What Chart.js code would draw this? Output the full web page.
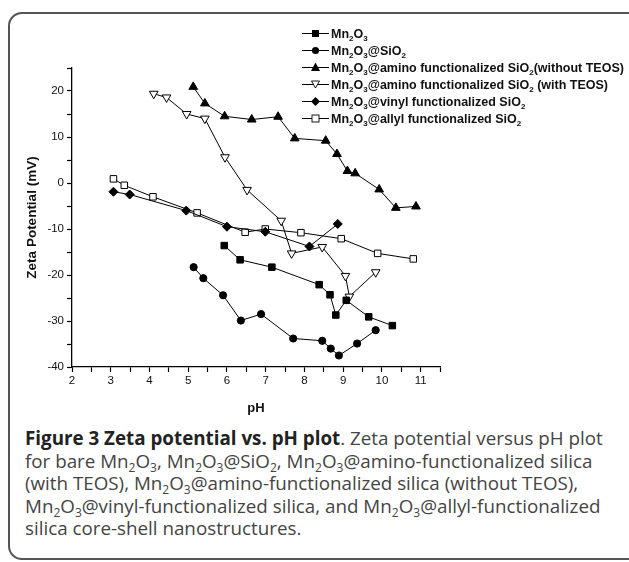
<!DOCTYPE html>
<html>
<head>
<meta charset="utf-8">
<script src="https://cdn.jsdelivr.net/npm/chart.js@4.4.1/dist/chart.umd.min.js"></script>
<style>
  html, body { margin: 0; padding: 0; background: #fff; }
  body { width: 629px; height: 562px; position: relative; overflow: hidden; }
  #frame {
    position: absolute; left: 8px; top: 12px; width: 640px; height: 548px;
    border: 2px solid #555; border-radius: 14px; box-sizing: border-box;
  }
  #wrap { position: absolute; left: 0; top: 0; width: 629px; height: 420px; }
  #legend {
    position: absolute; left: 302px; top: 25px;
    font: bold 12.5px "Liberation Sans", Arial, sans-serif; color: #111;
  }
  #legend .row { height: 17px; display: flex; align-items: center; white-space: nowrap; }
  #legend svg { margin-right: 2px; }
  #legend sub { font-size: 8px; vertical-align: -3px; line-height: 0; }
  #caption {
    position: absolute; left: 25px; top: 427px; width: 610px; white-space: nowrap;
    font: 18.8px "Open Sans", sans-serif; color: #444; line-height: 22.5px;
  }
  #caption b { color: #222; }
  #caption sub { font-size: 12px; vertical-align: -4px; line-height: 0; }
</style>
</head>
<body>
<div id="frame"></div>
<div id="wrap"><canvas id="grafico"></canvas></div>
<div id="legend"></div>
<div id="caption"><b>Figure 3 Zeta potential vs. pH plot</b>. Zeta potential versus pH plot<br>for bare Mn<sub>2</sub>O<sub>3</sub>, Mn<sub>2</sub>O<sub>3</sub>@SiO<sub>2</sub>, Mn<sub>2</sub>O<sub>3</sub>@amino-functionalized silica<br>(with TEOS), Mn<sub>2</sub>O<sub>3</sub>@amino-functionalized silica (without TEOS),<br>Mn<sub>2</sub>O<sub>3</sub>@vinyl-functionalized silica, and Mn<sub>2</sub>O<sub>3</sub>@allyl-functionalized<br>silica core-shell nanostructures.</div>
<script>
// pH e potencial zeta de cada amostra
const mnPH = [5.93, 6.34, 7.16, 8.38, 8.66, 8.81, 9.08, 9.66, 10.27];
const mnZeta = [-13.6, -16.7, -18.3, -22.1, -24.3, -28.7, -25.5, -29.1, -31.0];

const sioPH = [5.14, 5.39, 5.90, 6.36, 6.88, 7.71, 8.46, 8.68, 8.89, 9.36, 9.84];
const sioZeta = [-18.3, -20.7, -24.4, -29.9, -28.5, -33.8, -34.3, -36.0, -37.5, -34.9, -32.0];

const aminoPH = [5.13, 5.43, 5.94, 6.64, 7.32, 7.75, 8.55, 8.84, 9.11, 9.31, 9.93, 10.36, 10.88];
const aminoZeta = [20.9, 17.3, 14.5, 13.8, 14.4, 9.7, 9.2, 6.3, 2.6, 2.1, -1.4, -5.4, -5.1];

const teosPH = [4.11, 4.44, 4.96, 5.43, 5.95, 6.52, 7.40, 7.67, 8.46, 9.06, 9.16, 9.84];
const teosZeta = [19.4, 18.6, 15.0, 14.0, 5.6, -1.5, -8.2, -15.3, -13.9, -20.2, -24.7, -19.4];

const vinylPH = [3.07, 3.49, 4.95, 6.00, 6.99, 8.13, 8.86];
const vinylZeta = [-1.9, -2.5, -6.0, -9.5, -10.6, -13.8, -8.9];

const allylPH = [3.07, 3.35, 4.09, 5.23, 6.47, 6.99, 7.91, 8.95, 9.89, 10.81];
const allylZeta = [0.9, -0.5, -3.0, -6.5, -10.7, -10.0, -10.8, -12.1, -15.3, -16.5];

const nomes = [
  "Mn<sub>2</sub>O<sub>3</sub>",
  "Mn<sub>2</sub>O<sub>3</sub>@SiO<sub>2</sub>",
  "Mn<sub>2</sub>O<sub>3</sub>@amino functionalized SiO<sub>2</sub>(without TEOS)",
  "Mn<sub>2</sub>O<sub>3</sub>@amino functionalized SiO<sub>2</sub> (with TEOS)",
  "Mn<sub>2</sub>O<sub>3</sub>@vinyl functionalized SiO<sub>2</sub>",
  "Mn<sub>2</sub>O<sub>3</sub>@allyl functionalized SiO<sub>2</sub>"
];

function pontos(xs, ys) {
  return xs.map(function (x, i) { return { x: x, y: ys[i] }; });
}

function serie(label, xs, ys, estilo, raio, cheio, rotacao) {
  return {
    label: label,
    data: pontos(xs, ys),
    showLine: true,
    borderColor: "#000",
    borderWidth: 1,
    pointStyle: estilo,
    pointRadius: raio,
    pointHoverRadius: raio,
    pointRotation: rotacao || 0,
    pointBackgroundColor: cheio ? "#000" : "#fff",
    pointBorderColor: "#000",
    pointBorderWidth: 1,
    clip: false
  };
}

const datasets = [
  serie("Mn2O3", mnPH, mnZeta, "rect", 4.6, true),
  serie("Mn2O3@SiO2", sioPH, sioZeta, "circle", 3.6, true),
  serie("without TEOS", aminoPH, aminoZeta, "triangle", 5, true),
  serie("with TEOS", teosPH, teosZeta, "triangle", 5, false, 180),
  serie("vinyl", vinylPH, vinylZeta, "rectRot", 4.5, true),
  serie("allyl", allylPH, allylZeta, "rect", 4.6, false)
];

// Legenda em HTML (com subscritos)
const simbolos = [
  '<rect x="10" y="4" width="7" height="7" fill="#000"/>',
  '<circle cx="13.5" cy="7.5" r="3.6" fill="#000"/>',
  '<polygon points="13.5,2.5 18,11 9,11" fill="#000"/>',
  '<polygon points="9.5,4 17.5,4 13.5,11" fill="#fff" stroke="#000" stroke-width="0.9"/>',
  '<polygon points="13.5,3 18,7.5 13.5,12 9,7.5" fill="#000"/>',
  '<rect x="10" y="4" width="7" height="7" fill="#fff" stroke="#000" stroke-width="0.9"/>'
];
let legenda = document.querySelector("#legend");
nomes.forEach(function (nome, i) {
  let linha = document.createElement("div");
  linha.className = "row";
  linha.innerHTML = '<svg width="27" height="15" viewBox="0 0 27 15">' +
    '<line x1="0" y1="7.5" x2="27" y2="7.5" stroke="#000" stroke-width="1"/>' +
    simbolos[i] + '</svg><span>' + nome + '</span>';
  legenda.appendChild(linha);
});

const fonteEixo = { family: "'Liberation Sans', Arial, sans-serif", size: 11.5 };

new Chart(document.getElementById("grafico"), {
  type: "scatter",
  data: { datasets: datasets },
  options: {
    responsive: true,
    maintainAspectRatio: false,
    animation: false,
    layout: { padding: { left: 20, top: 68, right: 189, bottom: 0 } },
    plugins: { legend: { display: false }, tooltip: { enabled: false } },
    scales: {
      x: {
        type: "linear",
        min: 2, max: 11.5,
        afterFit: function (eixo) { eixo.height = 53; },
        border: { display: true, color: "#000", width: 1.3 },
        grid: { display: true, drawOnChartArea: false, drawTicks: true, tickLength: 5, color: "#000", tickWidth: 1.2 },
        ticks: {
          stepSize: 0.5, color: "#111", font: fonteEixo, padding: 2, maxRotation: 0, autoSkip: false,
          callback: function (v) { return Number.isInteger(v) ? String(v) : ""; }
        },
        title: { display: true, text: "pH", color: "#111", font: { family: fonteEixo.family, size: 13, weight: "bold" }, padding: { top: 5 } }
      },
      y: {
        type: "linear",
        min: -40, max: 25,
        afterFit: function (eixo) { eixo.width = 52; },
        border: { display: true, color: "#000", width: 1.3 },
        grid: { display: true, drawOnChartArea: false, drawTicks: true, tickLength: 5, color: "#000", tickWidth: 1.2 },
        ticks: {
          stepSize: 5, color: "#111", font: fonteEixo, padding: 3, autoSkip: false,
          callback: function (v) { return v % 10 === 0 ? String(v) : ""; }
        },
        title: { display: true, text: "Zeta Potential (mV)", color: "#111", font: { family: fonteEixo.family, size: 13.5, weight: "bold" }, padding: { top: 4, bottom: 4 } }
      }
    }
  }
});
</script>
</body>
</html>
